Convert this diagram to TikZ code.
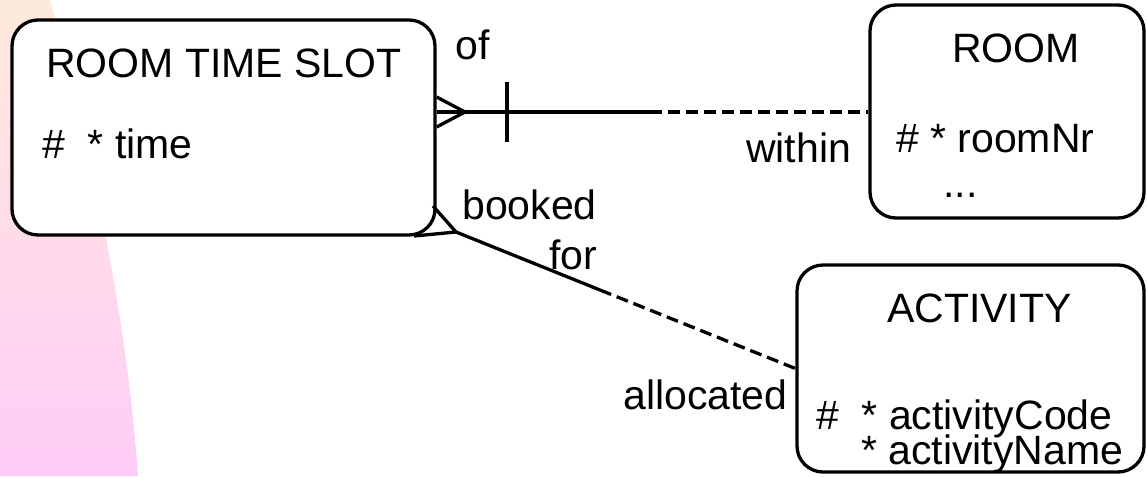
\documentclass[tikz,border=0pt]{standalone}
\usepackage{fontspec}
\setmainfont{Liberation Sans}
\definecolor{bgtop}{RGB}{254,234,220}
\definecolor{bgbot}{RGB}{255,204,247}
\begin{document}
\begin{tikzpicture}[x=1pt,y=-1pt,
  every node/.style={font=\fontsize{41}{48}\selectfont},
  entity/.style={draw,line width=3.3pt,rounded corners=26pt,fill=white,inner sep=0pt},
  lbl/.style={anchor=base west,inner sep=0pt},
  rel/.style={line width=3.3pt},
  optional/.style={line width=3.3pt,dash pattern=on 12pt off 6pt},
]
\useasboundingbox (0,0) rectangle (1147,476);

% soft backdrop strip on the left
\shade[top color=bgtop,bottom color=bgbot]
  (0,0) -- (50,0) .. controls (92,150) and (127,320) .. (138,476) -- (0,476) -- cycle;

% entities
\node[entity,minimum width=423pt,minimum height=215pt] (ts) at (223.5,127.5) {};
\node[entity,minimum width=274pt,minimum height=213pt] (rm) at (1007,111.5) {};
\node[entity,minimum width=347pt,minimum height=207pt] (act) at (970.5,368.5) {};

% entity texts
\node[lbl] (tsname) at (46,78) {ROOM TIME SLOT};
\node[lbl] (tsattr) at (42,158) {\#\ \ * time};
\node[lbl] (rmname) at (952,63) {ROOM};
\node[lbl] (rmattr) at (896,152) {\# * roomNr};
\node[lbl] (rmmore) at (943,197) {...};
\node[lbl] (actname) at (887,322) {ACTIVITY};
\node[lbl] (actcode) at (816,429) {\#\ \ * activityCode};
\node[lbl] (actnm) at (861,464) {* activityName};

% relationship: room time slot of / within room
\coordinate (ofTip) at (465,112);
\coordinate (ofBar) at (507,112);
\coordinate (ofMid) at (650,112);
\draw[rel] ([yshift=15pt]ofTip -| ts.east) -- (ofTip) -- ([yshift=-15pt]ofTip -| ts.east);
\draw[rel] (ofTip -| ts.east) -- (ofMid);
\draw[rel] ([yshift=30pt]ofBar) -- ([yshift=-30pt]ofBar);
\draw[optional] (ofMid) -- (ofMid -| rm.west);

% relationship: room time slot booked for / allocated activity
\coordinate (bkTip) at (456,232);
\coordinate (bkToeA) at (433,206);
\coordinate (bkToeB) at (414,236);
\coordinate (bkMid) at (600,290);
\draw[rel] (bkToeA) -- (bkTip) -- (bkToeB);
\draw[rel] (bkTip) -- (bkMid);
\draw[optional] (bkMid) -- (act.west);

% relationship labels
\node[lbl] (lof) at (455,60) {of};
\node[lbl] (lwithin) at (746,162) {within};
\node[lbl] (lbooked) at (462,219) {booked};
\node[lbl] (lfor) at (549,269) {for};
\node[lbl] (lalloc) at (623,409) {allocated};
\end{tikzpicture}
\end{document}
